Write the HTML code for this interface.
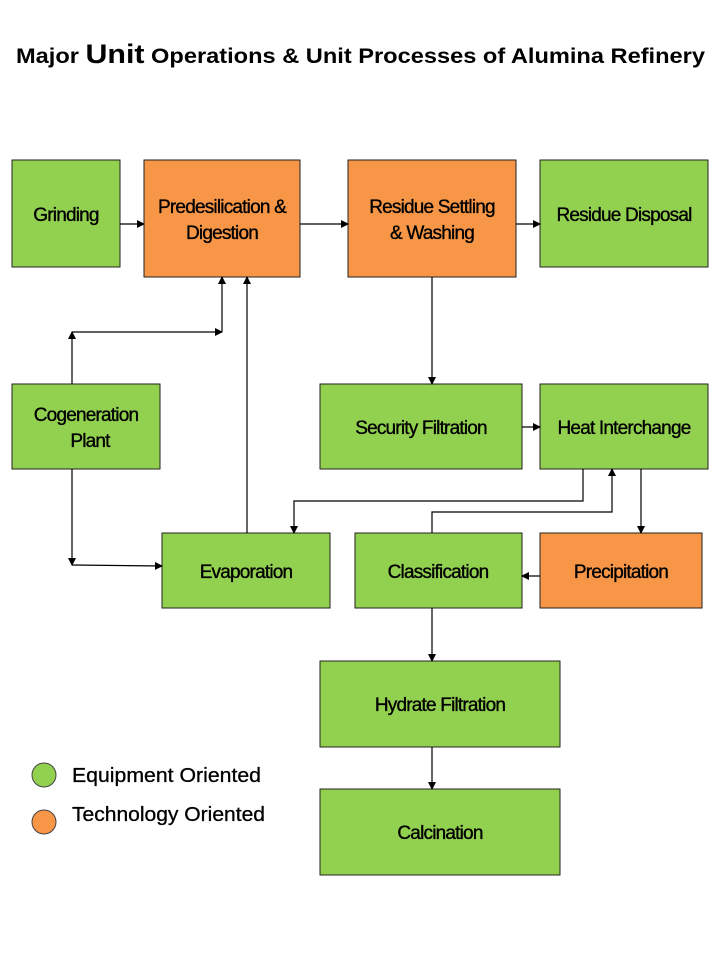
<!DOCTYPE html>
<html><head><meta charset="utf-8"><style>
body{margin:0;background:#fff;}
svg{display:block}
text{font-family:"Liberation Sans",sans-serif;}
</style></head><body>
<svg width="720" height="960" viewBox="0 0 720 960" xmlns="http://www.w3.org/2000/svg">
<defs><marker id="a" markerWidth="8" markerHeight="8" refX="7" refY="4" orient="auto" markerUnits="userSpaceOnUse"><path d="M0,0 L8,4 L0,8 z" fill="#000"/></marker></defs>
<text x="16" y="63" font-weight="bold" font-size="21" textLength="689" lengthAdjust="spacingAndGlyphs">Major <tspan font-size="27">Unit</tspan> Operations &amp; Unit Processes  of Alumina Refinery</text>
<g stroke="#222" stroke-width="1">
<rect x="12" y="160" width="108" height="107" fill="#92d050"/>
<rect x="144" y="160" width="156" height="117" fill="#f79646"/>
<rect x="348" y="160" width="168" height="117" fill="#f79646"/>
<rect x="540" y="160" width="168" height="107" fill="#92d050"/>
<rect x="12" y="384" width="148" height="85" fill="#92d050"/>
<rect x="320" y="384" width="202" height="85" fill="#92d050"/>
<rect x="540" y="384" width="168" height="85" fill="#92d050"/>
<rect x="162" y="533" width="168" height="75" fill="#92d050"/>
<rect x="355" y="533" width="167" height="75" fill="#92d050"/>
<rect x="540" y="533" width="162" height="75" fill="#f79646"/>
<rect x="320" y="661" width="240" height="86" fill="#92d050"/>
<rect x="320" y="789" width="240" height="86" fill="#92d050"/>
</g>
<g font-size="19" text-anchor="middle" letter-spacing="-0.8" fill="#000" stroke="#000" stroke-width="0.35">
<text x="66" y="221">Grinding</text>
<text x="222" y="213">Predesilication &amp;</text>
<text x="222" y="239">Digestion</text>
<text x="432" y="213">Residue Settling</text>
<text x="432" y="239">&amp; Washing</text>
<text x="624" y="221">Residue Disposal</text>
<text x="86" y="421">Cogeneration</text>
<text x="90" y="447">Plant</text>
<text x="421" y="434">Security Filtration</text>
<text x="624" y="434">Heat Interchange</text>
<text x="246" y="578">Evaporation</text>
<text x="438" y="578">Classification</text>
<text x="621" y="578">Precipitation</text>
<text x="440" y="711">Hydrate Filtration</text>
<text x="440" y="839">Calcination</text>
</g>
<g stroke="#000" stroke-width="1.2" fill="none">
<line x1="120" y1="224" x2="144" y2="224" marker-end="url(#a)"/>
<line x1="300" y1="224" x2="348" y2="224" marker-end="url(#a)"/>
<line x1="516" y1="224" x2="540" y2="224" marker-end="url(#a)"/>
<line x1="72" y1="384" x2="72" y2="332" marker-end="url(#a)"/>
<line x1="72" y1="332" x2="222" y2="332" marker-end="url(#a)"/>
<line x1="222" y1="332" x2="222" y2="277" marker-end="url(#a)"/>
<line x1="247" y1="533" x2="247" y2="277" marker-end="url(#a)"/>
<line x1="72" y1="469" x2="72" y2="565" marker-end="url(#a)"/>
<line x1="72" y1="565" x2="162" y2="566" marker-end="url(#a)"/>
<line x1="432" y1="277" x2="432" y2="384" marker-end="url(#a)"/>
<line x1="522" y1="427" x2="540" y2="427" marker-end="url(#a)"/>
<polyline points="583,469 583,501 294,501 294,533" marker-end="url(#a)"/>
<polyline points="432,533 432,512 612,512 612,469" marker-end="url(#a)"/>
<line x1="641" y1="469" x2="641" y2="533" marker-end="url(#a)"/>
<line x1="540" y1="576" x2="522" y2="576" marker-end="url(#a)"/>
<line x1="432" y1="608" x2="432" y2="661" marker-end="url(#a)"/>
<line x1="432" y1="747" x2="432" y2="789" marker-end="url(#a)"/>
</g>
<circle cx="44" cy="775" r="12" fill="#92d050" stroke="#444"/>
<circle cx="44" cy="822" r="12" fill="#f79646" stroke="#444"/>
<g font-size="20" stroke="#000" stroke-width="0.3">
<text x="72" y="782" textLength="189" lengthAdjust="spacingAndGlyphs">Equipment Oriented</text>
<text x="72" y="821" textLength="193" lengthAdjust="spacingAndGlyphs">Technology Oriented</text>
</g>
</svg>
</body></html>
